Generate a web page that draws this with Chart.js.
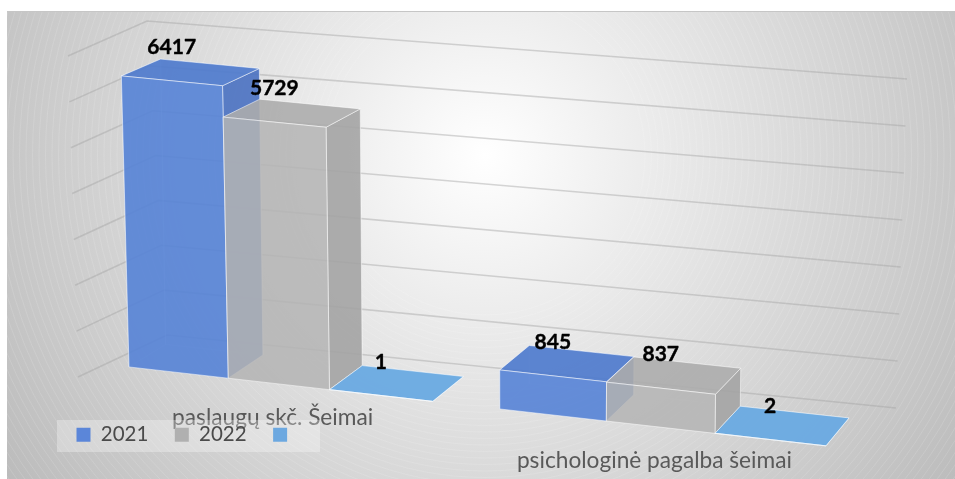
<!DOCTYPE html>
<html>
<head>
<meta charset="utf-8">
<style>html,body{margin:0;padding:0;background:#fff}canvas{display:block}</style>
<script src="https://cdn.jsdelivr.net/npm/chart.js@4"></script>
</head>
<body>
<canvas id="c" width="955" height="479"></canvas>
<script>
const categories = ['paslaugų skč. Šeimai', 'psichologinė pagalba šeimai'];
const series2021 = [6417, 845];
const series2022 = [5729, 837];
const series3 = [1, 2];
const seriesNames = ['2021', '2022', ''];
const axisMax = 7000;
const axisStep = 1000;

const FONT = 'Lato, Carlito, "Open Sans", sans-serif';
const PERSP = 0.074;
// screen corners of the projected box the bars stand in
const BARBOX = {
  fb: [[97.6, 363.4], [861.9, 450]], ft: [[88.6, 46.4], [868.9, 121]],
  bb: [[134.8, 341.2], [884.3, 421.8]], bt: [[128.8, 30.2], [890.3, 101.8]]
};
const WALL = {
  backTop: [[147, 21], [907, 79]], backBot: [[167, 335], [896, 408]],
  leftTop: [68, 56], leftBot: [78, 377]
};
const mix = (a, b, t) => [a[0] + (b[0] - a[0]) * t, a[1] + (b[1] - a[1]) * t];
const persp = u => u / (1 + PERSP * (1 - u));
function project(u, v, w) {
  const s = persp(u);
  const f = mix(mix(BARBOX.fb[0], BARBOX.fb[1], s), mix(BARBOX.ft[0], BARBOX.ft[1], s), v);
  const b = mix(mix(BARBOX.bb[0], BARBOX.bb[1], s), mix(BARBOX.bt[0], BARBOX.bt[1], s), v);
  return mix(f, b, w);
}
function poly(ctx, pts, fill, stroke) {
  ctx.beginPath();
  pts.forEach((p, i) => i ? ctx.lineTo(p[0], p[1]) : ctx.moveTo(p[0], p[1]));
  ctx.closePath();
  if (fill) { ctx.fillStyle = fill; ctx.fill(); }
  if (stroke) { ctx.strokeStyle = stroke; ctx.lineWidth = 1; ctx.stroke(); }
}
const PALETTE = [
  { front: 'rgba(84,130,214,0.88)', top: 'rgba(78,122,205,0.9)', side: 'rgba(72,112,192,0.88)', back: 'rgba(90,130,210,0.12)', hidden: 'rgba(255,255,255,0.22)' },
  { front: 'rgba(180,180,180,0.84)', top: 'rgba(172,172,172,0.88)', side: 'rgba(163,163,163,0.88)', back: 'rgba(170,170,170,0.1)', hidden: 'rgba(255,255,255,0.1)' },
  { front: 'rgba(104,168,226,0.9)', top: 'rgba(106,170,226,0.95)', side: 'rgba(96,155,215,0.9)', back: 'rgba(106,170,226,0.1)', hidden: 'rgba(255,255,255,0.1)' }
];
const EDGE = 'rgba(255,255,255,0.5)';

const scene = {
  id: 'scene',
  beforeLayout(chart) {
    const lg = chart.legend;
    lg._layers = () => [{ z: 10, draw(area) {
      const c = chart.ctx;
      c.save();
      c.fillStyle = 'rgba(255,255,255,0.3)';
      c.fillRect(57, 420, 263, 32);
      c.restore();
      Object.assign(lg, { left: 50, right: 600, top: 398, bottom: 479 });
      lg.draw(area);
    } }];
  },
  beforeDraw(chart) {
    const c = chart.ctx;
    c.save();
    c.fillStyle = '#fff';
    c.fillRect(0, 0, 955, 479);
    const g = c.createRadialGradient(485, 155, 0, 485, 155, 700);
    g.addColorStop(0, '#ffffff');
    g.addColorStop(1, '#adadad');
    c.fillStyle = g;
    c.fillRect(7, 11, 948, 468);
    // fine banding rings of the gradient
    c.beginPath();
    c.rect(7, 11, 948, 468);
    c.clip();
    c.strokeStyle = 'rgba(255,255,255,0.16)';
    c.lineWidth = 0.8;
    for (let r = 160; r < 700; r += 6.5) {
      c.beginPath();
      c.arc(485, 155, r, 0, Math.PI * 2);
      c.stroke();
    }
    c.fillStyle = '#c6c6c6';
    c.fillRect(7, 11, 948, 1);
    c.restore();
  },
  beforeDatasetsDraw(chart) {
    const c = chart.ctx, y = chart.scales.y;
    c.save();
    c.strokeStyle = 'rgba(165,165,165,0.45)';
    c.lineWidth = 1.6;
    y.getTicks().forEach(t => {
      const v = (y.bottom - y.getPixelForValue(t.value)) / y.height;
      const corner = mix(WALL.backBot[0], WALL.backTop[0], v);
      const right = mix(WALL.backBot[1], WALL.backTop[1], v);
      const left = mix(WALL.leftBot, WALL.leftTop, v);
      c.beginPath();
      c.moveTo(left[0], left[1]);
      c.lineTo(corner[0], corner[1]);
      c.lineTo(right[0], right[1]);
      c.stroke();
    });
    c.restore();
  },
  beforeDatasetDraw() { return false; },
  afterDatasetsDraw(chart) {
    const c = chart.ctx, x = chart.scales.x, y = chart.scales.y;
    const U = px => (px - x.left) / x.width;
    const V = px => (y.bottom - px) / y.height;
    const labels = [];
    c.save();
    c.lineJoin = 'round';
    categories.forEach((_, ci) => {
      chart.data.datasets.forEach((ds, di) => {
        const el = chart.getDatasetMeta(di).data[ci];
        const u0 = U(el.x - el.width / 2), u1 = U(el.x + el.width / 2);
        const v1 = V(el.y), v0 = V(el.base);
        const P = (u, v, w) => project(u, v, w);
        const p = PALETTE[di];
        // hidden faces seen through the translucent fill
        poly(c, [P(u0, v0, 1), P(u1, v0, 1), P(u1, v1, 1), P(u0, v1, 1)], p.back, p.hidden);
        poly(c, [P(u0, v0, 0), P(u0, v0, 1), P(u0, v1, 1), P(u0, v1, 0)], p.back, p.hidden);
        poly(c, [P(u0, v0, 0), P(u1, v0, 0), P(u1, v0, 1), P(u0, v0, 1)], p.back, null);
        // visible faces
        poly(c, [P(u1, v0, 0), P(u1, v0, 1), P(u1, v1, 1), P(u1, v1, 0)], p.side, EDGE);
        poly(c, [P(u0, v1, 0), P(u1, v1, 0), P(u1, v1, 1), P(u0, v1, 1)], p.top, EDGE);
        poly(c, [P(u0, v0, 0), P(u1, v0, 0), P(u1, v1, 0), P(u0, v1, 0)], p.front, EDGE);
        const m = P((u0 + u1) / 2, v1, 0);
        labels.push([ds.data[ci], m[0], m[1] - 33.5]);
      });
    });
    // category labels
    c.font = '22.7px ' + FONT;
    c.textAlign = 'center';
    c.textBaseline = 'middle';
    c.fillStyle = '#595959';
    categories.forEach((name, i) => {
      const m = project(U(x.getPixelForValue(i)), 0, 0);
      c.fillText(name, m[0] - 6, m[1] + 33.5);
    });
    // value labels
    c.font = 'bold 21px ' + FONT;
    c.fillStyle = '#000';
    c.strokeStyle = '#000';
    c.lineWidth = 0.4;
    labels.forEach(l => {
      c.fillText(String(l[0]), l[1], l[2]);
      c.strokeText(String(l[0]), l[1], l[2]);
    });
    c.restore();
  }
};

const colors = ['#5b86d9', '#b0b0b0', '#6ca8e0'];
new Chart(document.getElementById('c'), {
  type: 'bar',
  plugins: [scene],
  data: {
    labels: categories,
    datasets: [series2021, series2022, series3].map((d, i) => ({
      label: seriesNames[i], data: d, backgroundColor: colors[i], borderWidth: 0,
      categoryPercentage: 0.824, barPercentage: 1
    }))
  },
  options: {
    responsive: false,
    animation: false,
    plugins: {
      tooltip: { enabled: false },
      title: { display: false },
      legend: {
        display: true, position: 'bottom', align: 'start',
        labels: { boxWidth: 14, boxHeight: 14, padding: 26.5, color: '#4a4a4a', font: { family: FONT, size: 20.5 } }
      }
    },
    scales: {
      x: { grid: { display: false }, border: { display: false }, ticks: { display: false } },
      y: { min: 0, max: axisMax, grid: { display: false }, border: { display: false },
           ticks: { display: false, stepSize: axisStep } }
    }
  }
});
</script>
</body>
</html>
